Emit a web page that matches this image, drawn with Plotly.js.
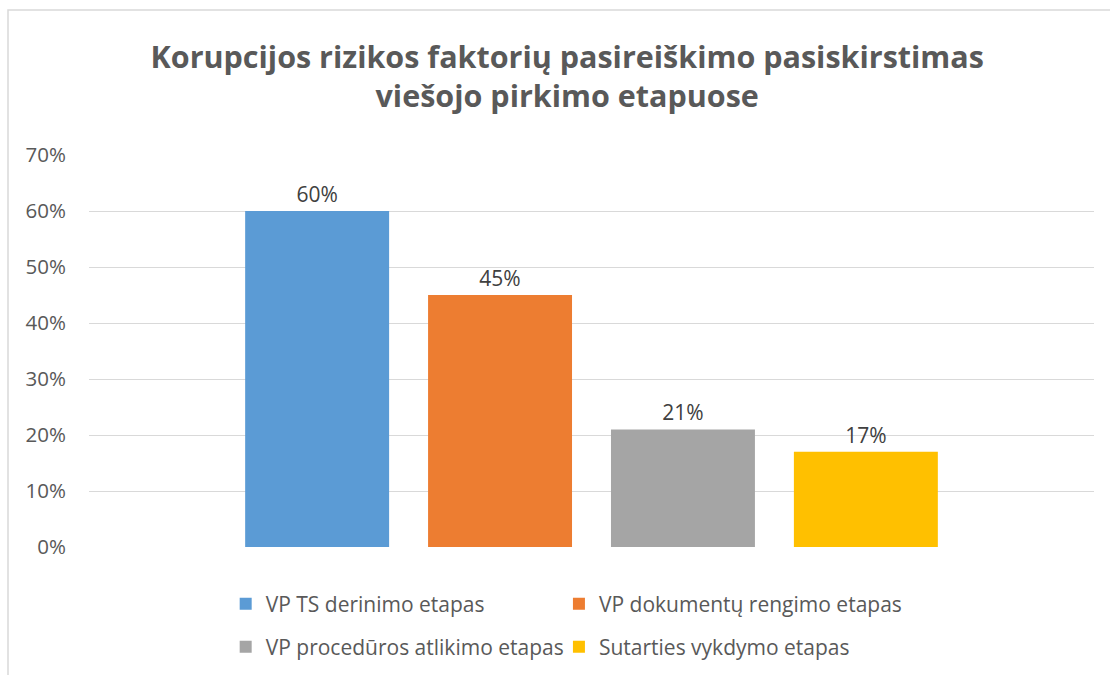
<!DOCTYPE html>
<html>
<head>
<meta charset="utf-8">
<script src="https://cdn.plot.ly/plotly-3.0.1.min.js"></script>
<style>html,body{margin:0;padding:0;background:#fff;}#chart{width:1110px;height:675px;}</style>
</head>
<body>
<div id="chart"></div>
<script>
const category = ["Etapas"];
const seriesNames = ["VP TS derinimo etapas", "VP dokumentų rengimo etapas", "VP procedūros atlikimo etapas", "Sutarties vykdymo etapas"];
const seriesValues = [0.60, 0.45, 0.21, 0.17];
const seriesColors = ["#5b9bd5", "#ed7d31", "#a5a5a5", "#ffc000"];
const seriesLegend = ["legend", "legend2", "legend3", "legend4"];
const tickValues = [0, 0.1, 0.2, 0.3, 0.4, 0.5, 0.6, 0.7];
const tickLabels = ["0%", "10%", "20%", "30%", "40%", "50%", "60%", "70%"];
const titleText = "Korupcijos rizikos faktorių pasireiškimo pasiskirstimas<br>viešojo pirkimo etapuose";

const FONT = "'Open Sans', Lato, sans-serif";
const traces = seriesNames.map((name, i) => ({
  type: "bar",
  name: name,
  x: category,
  y: [seriesValues[i]],
  marker: {color: seriesColors[i]},
  text: [Math.round(seriesValues[i] * 100) + "%"],
  textposition: "outside",
  textfont: {family: FONT, size: 21, color: "#404040"},
  cliponaxis: false,
  legend: seriesLegend[i],
  hoverinfo: "name+y"
}));

function legendAt(x, y) {
  return {
    orientation: "h",
    xref: "paper", x: x, xanchor: "left",
    yref: "container", y: y, yanchor: "middle",
    font: {family: FONT, size: 21, color: "#595959"},
    bgcolor: "rgba(0,0,0,0)"
  };
}

const layout = {
  width: 1110,
  height: 675,
  margin: {l: 89, r: 16, t: 155, b: 128},
  paper_bgcolor: "#ffffff",
  plot_bgcolor: "#ffffff",
  font: {family: FONT, color: "#595959", size: 21},
  title: {
    text: titleText,
    font: {family: FONT, size: 30.5, color: "#595959", weight: "bold"},
    x: 0.511, xanchor: "center", xref: "container",
    y: 0.9, yanchor: "middle"
  },
  barmode: "group",
  bargap: 0.272,
  bargroupgap: 0.213,
  showlegend: true,
  legend: legendAt(0.136, 0.1052),
  legend2: legendAt(0.4676, 0.1052),
  legend3: legendAt(0.136, 0.0415),
  legend4: legendAt(0.4676, 0.0415),
  xaxis: {
    showticklabels: false,
    showgrid: false,
    zeroline: false,
    showline: false,
    ticks: "",
    fixedrange: true
  },
  yaxis: {
    range: [0, 0.7],
    tickvals: tickValues,
    ticktext: tickLabels,
    showgrid: true,
    gridcolor: "#d9d9d9",
    gridwidth: 1,
    zeroline: false,
    showline: false,
    ticks: "",
    ticklabelstandoff: 22,
    tickfont: {family: FONT, size: 20.5, color: "#595959"},
    fixedrange: true
  },
  shapes: [{
    type: "rect", xref: "paper", yref: "paper",
    x0: -0.0806, x1: 1.2, y0: -1, y1: 1.37,
    line: {color: "#d9d9d9", width: 1.5},
    fillcolor: "rgba(0,0,0,0)",
    layer: "below"
  }]
};

Plotly.newPlot("chart", traces, layout, {displayModeBar: false});
</script>
</body>
</html>
